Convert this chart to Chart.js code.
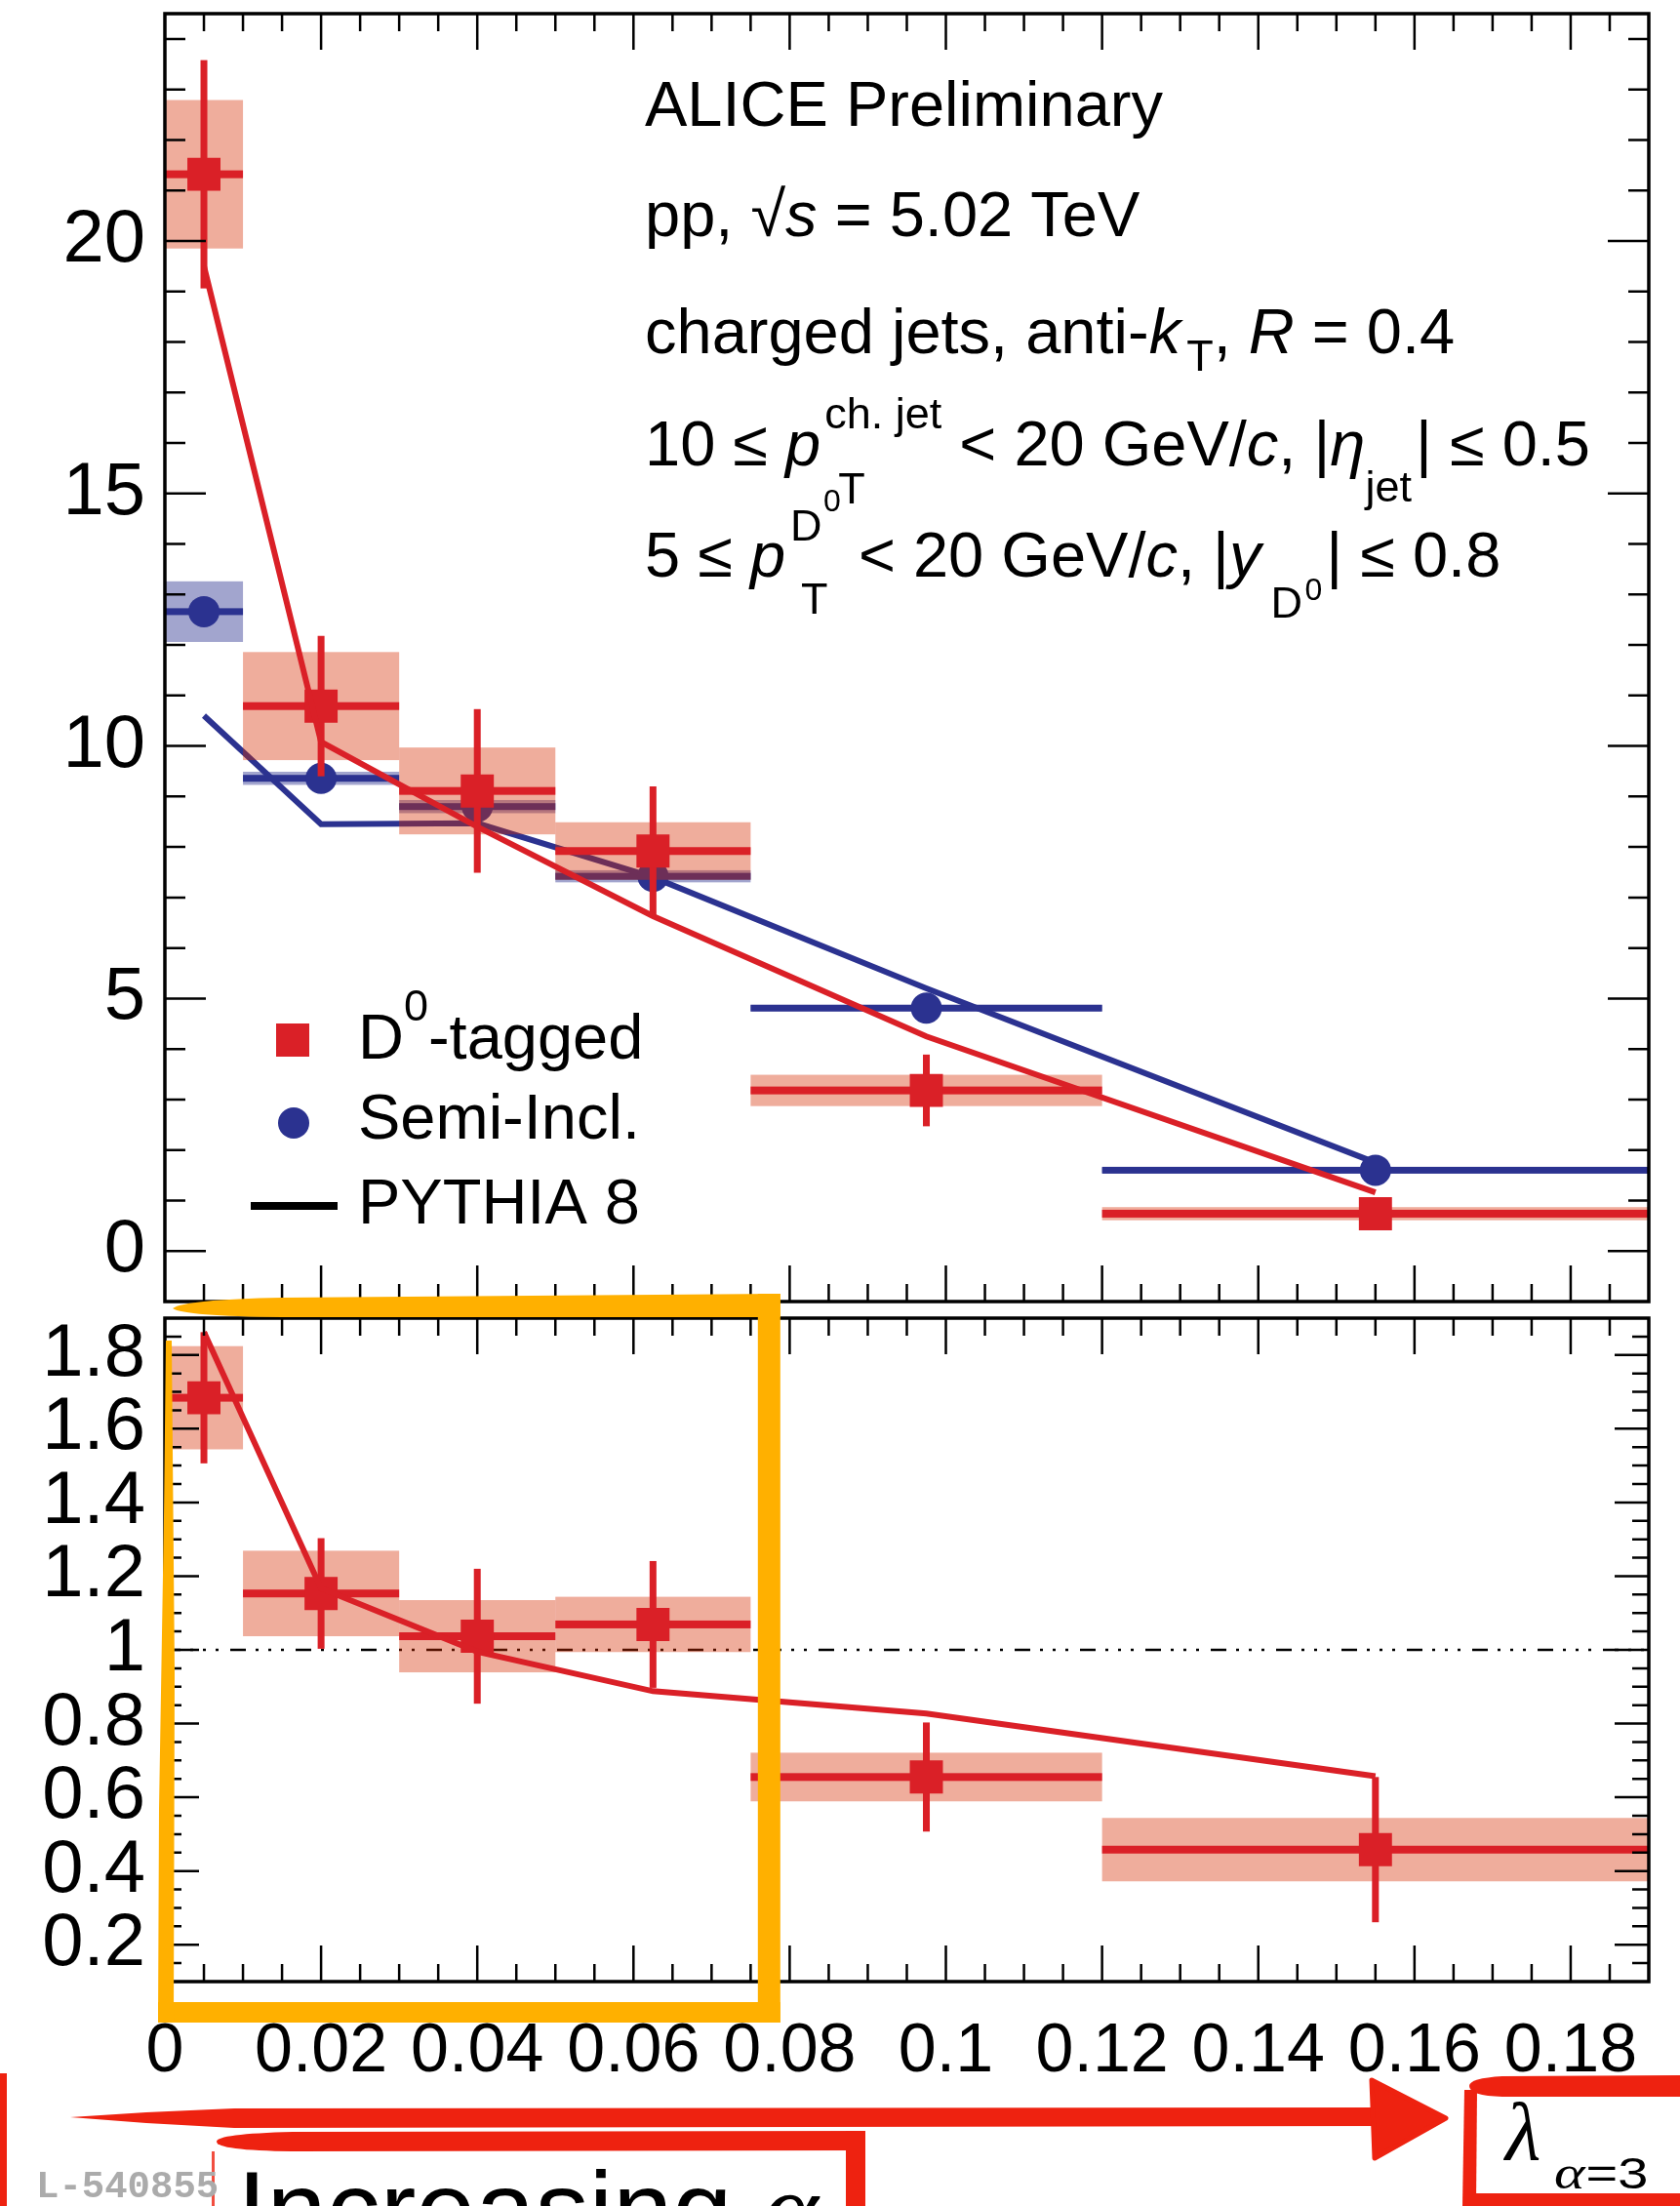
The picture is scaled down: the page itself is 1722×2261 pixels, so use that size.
<!DOCTYPE html>
<html>
<head>
<meta charset="utf-8">
<title>Jet angularity, D0-tagged vs semi-inclusive jets</title>
<script src="https://cdn.jsdelivr.net/npm/chart.js@4.4.1/dist/chart.umd.min.js"></script>
<style>
  html, body { margin: 0; padding: 0; background: #fff; }
  body { width: 1722px; height: 2261px; position: relative; overflow: hidden; }
  canvas { position: absolute; left: 0; }
  #top { top: 0; width: 1722px; height: 1342px; }
  #bottom { top: 1342px; width: 1722px; height: 919px; }
  #deco { top: 0; width: 1722px; height: 2261px; pointer-events: none; }
</style>
</head>
<body>
<canvas id="top" width="1722" height="1342"></canvas>
<canvas id="bottom" width="1722" height="919"></canvas>
<canvas id="deco" width="1722" height="2261"></canvas>
<script>
// ---- lambda (alpha = 3) bins ----
const lambdaLow    = [0, 0.01, 0.03, 0.05, 0.075, 0.12];
const lambdaHigh   = [0.01, 0.03, 0.05, 0.075, 0.12, 0.19];
const lambdaCenter = [0.005, 0.02, 0.04, 0.0625, 0.0975, 0.155];

// ---- D0-tagged jets: value, statistical and systematic uncertainty ----
const d0Tagged     = [21.32, 10.79, 9.11, 7.92, 3.18, 0.74];
const d0TaggedStat = [2.26, 1.39, 1.62, 1.28, 0.71, 0.25];
const d0TaggedSys  = [1.47, 1.07, 0.86, 0.57, 0.31, 0.13];

// ---- semi-inclusive jets ----
const semiIncl     = [12.66, 9.36, 8.80, 7.42, 4.81, 1.60];
const semiInclStat = [0.12, 0.08, 0.08, 0.08, 0.07, 0.06];
const semiInclSys  = [0.60, 0.13, 0.13, 0.12, 0.06, 0.05];

// ---- PYTHIA 8 predictions ----
const pythiaD0     = [19.5, 10.08, 8.4, 6.63, 4.25, 1.16];
const pythiaSemi   = [10.6, 8.45, 8.47, 7.4, 5.2, 1.75];

// ---- ratio D0-tagged / semi-inclusive ----
const ratio        = [1.684, 1.153, 1.037, 1.069, 0.655, 0.458];
const ratioStat    = [0.178, 0.15, 0.183, 0.172, 0.148, 0.197];
const ratioSys     = [0.14, 0.116, 0.098, 0.075, 0.066, 0.086];
const pythiaRatio  = [1.862, 1.167, 0.995, 0.888, 0.827, 0.657];

// ---- axes ----
const xRange          = [0, 0.19];
const xTickValues     = [0, 0.02, 0.04, 0.06, 0.08, 0.1, 0.12, 0.14, 0.16, 0.18];
const xTickLabels     = ['0', '0.02', '0.04', '0.06', '0.08', '0.1', '0.12', '0.14', '0.16', '0.18'];
const topYRange       = [-1, 24.5];
const topYTickValues  = [0, 5, 10, 15, 20];
const topYTickLabels  = ['0', '5', '10', '15', '20'];
const ratioYRange     = [0.1, 1.9];
const ratioYTickValues = [0.2, 0.4, 0.6, 0.8, 1, 1.2, 1.4, 1.6, 1.8];
const ratioYTickLabels = ['0.2', '0.4', '0.6', '0.8', '1', '1.2', '1.4', '1.6', '1.8'];
const highlightRange  = [0, 0.0773];

// ---- styles ----
const FAMILY = "'Liberation Sans', Arial, Helvetica, sans-serif";
const SERIF  = "'Liberation Serif', 'Times New Roman', serif";
const RED = 'rgb(218,32,39)';
const BLUE = 'rgb(43,50,144)';
const RED_BAND = 'rgba(215,45,0,0.39)';
const BLUE_BAND = 'rgba(43,50,144,0.44)';
const ORANGE = 'rgb(255,176,0)';
const MARK_RED = 'rgb(238,34,16)';

Chart.defaults.font.family = FAMILY;

const pts = (xs, ys) => xs.map((x, i) => ({ x, y: ys[i] }));

function clipArea(chart) {
  const a = chart.chartArea, c = chart.ctx;
  c.save();
  c.beginPath();
  c.rect(a.left, a.top, a.right - a.left, a.bottom - a.top);
  c.clip();
}

function drawBands(chart, vals, errs, color) {
  const { x, y } = chart.scales, c = chart.ctx;
  c.fillStyle = color;
  vals.forEach((v, i) => {
    const x0 = x.getPixelForValue(lambdaLow[i]), x1 = x.getPixelForValue(lambdaHigh[i]);
    const y0 = y.getPixelForValue(v + errs[i]), y1 = y.getPixelForValue(v - errs[i]);
    c.fillRect(x0, y0, x1 - x0, y1 - y0);
  });
}

function drawErrorBars(chart, vals, stat, color, hw, vw) {
  const { x, y } = chart.scales, c = chart.ctx;
  c.fillStyle = color;
  vals.forEach((v, i) => {
    const x0 = x.getPixelForValue(lambdaLow[i]), x1 = x.getPixelForValue(lambdaHigh[i]);
    const xc = x.getPixelForValue(lambdaCenter[i]);
    const yv = y.getPixelForValue(v);
    c.fillRect(x0, yv - hw / 2, x1 - x0, hw);
    const yt = y.getPixelForValue(v + stat[i]), yb = y.getPixelForValue(v - stat[i]);
    c.fillRect(xc - vw / 2, yt, vw, yb - yt);
  });
}

// frame with ROOT-style inward ticks on all four sides
const panelFrame = {
  id: 'panelFrame',
  afterDatasetsDraw(chart, args, o) {
    const { ctx, chartArea: a, scales: { x, y } } = chart;
    ctx.save();
    ctx.strokeStyle = '#000';
    ctx.lineWidth = 2.5;
    ctx.beginPath();
    const nx = Math.round((x.max - x.min) / o.xStep);
    for (let i = 0; i <= nx; i++) {
      const px = x.getPixelForValue(x.min + i * o.xStep);
      if (px <= a.left + 1 || px >= a.right - 1) continue;
      const len = (i % o.xMajorEvery === 0) ? o.xMajorLen : o.xMinorLen;
      ctx.moveTo(px, a.bottom); ctx.lineTo(px, a.bottom - len);
      ctx.moveTo(px, a.top); ctx.lineTo(px, a.top + len);
    }
    const i0 = Math.ceil(y.min / o.yStep - 1e-6), i1 = Math.floor(y.max / o.yStep + 1e-6);
    for (let i = i0; i <= i1; i++) {
      const py = y.getPixelForValue(i * o.yStep);
      if (py <= a.top + 1 || py >= a.bottom - 1) continue;
      const len = (i % o.yMajorEvery === 0) ? o.yMajorLen : o.yMinorLen;
      ctx.moveTo(a.left, py); ctx.lineTo(a.left + len, py);
      ctx.moveTo(a.right, py); ctx.lineTo(a.right - len, py);
    }
    ctx.stroke();
    ctx.lineWidth = 3.5;
    ctx.strokeRect(a.left, a.top, a.right - a.left, a.bottom - a.top);
    ctx.restore();
  }
};

// uncertainty boxes and bin-width bars of the distributions
const topMeasurements = {
  id: 'topMeasurements',
  beforeDatasetsDraw(chart) {
    clipArea(chart);
    drawBands(chart, semiIncl, semiInclSys, BLUE_BAND);
    drawErrorBars(chart, semiIncl, semiInclStat, BLUE, 7, 6);
    chart.ctx.restore();
  },
  beforeDatasetDraw(chart, args) {
    if (args.index !== 2) return;
    clipArea(chart);
    drawBands(chart, d0Tagged, d0TaggedSys, RED_BAND);
    drawErrorBars(chart, d0Tagged, d0TaggedStat, RED, 8, 7);
    chart.ctx.restore();
  }
};

const ratioMeasurements = {
  id: 'ratioMeasurements',
  beforeDatasetsDraw(chart) {
    const { ctx, chartArea: a, scales: { y } } = chart;
    clipArea(chart);
    const py = y.getPixelForValue(1);
    ctx.strokeStyle = '#000';
    ctx.lineWidth = 2.5;
    ctx.setLineDash([16, 10, 3, 10, 3, 10, 3, 12]);
    ctx.beginPath();
    ctx.moveTo(a.left, py); ctx.lineTo(a.right, py);
    ctx.stroke();
    ctx.setLineDash([]);
    drawBands(chart, ratio, ratioSys, RED_BAND);
    drawErrorBars(chart, ratio, ratioStat, RED, 8, 7);
    ctx.restore();
  }
};

// ---- rich text helper (sub/superscripts) ----
function fontStr(size, style) { return (style ? style + ' ' : '') + size + 'px ' + FAMILY; }
function drawRun(ctx, x, y, parts) {
  for (const p of parts) {
    if (p.gap) { x += p.gap; continue; }
    if (p.stack) {
      let w = 0;
      for (const s of p.stack) {
        ctx.font = fontStr(s.size, s.style);
        ctx.fillText(s.t, x + (s.dx || 0), y + (s.dy || 0));
        w = Math.max(w, (s.dx || 0) + ctx.measureText(s.t).width);
      }
      x += w;
      continue;
    }
    ctx.font = fontStr(p.size || 65, p.style);
    ctx.fillText(p.t, x, y + (p.dy || 0));
    x += ctx.measureText(p.t).width;
  }
}

const topText = {
  id: 'topText',
  afterDraw(chart) {
    const ctx = chart.ctx;
    ctx.save();
    ctx.fillStyle = '#000';
    ctx.textAlign = 'left';
    ctx.textBaseline = 'alphabetic';
    const x0 = 661;
    drawRun(ctx, x0, 129, [{ t: 'ALICE Preliminary' }]);
    drawRun(ctx, x0, 242, [{ t: 'pp, ' }, { t: '\u221A' }, { t: 's', style: 'italic' }, { t: ' = 5.02 TeV' }]);
    drawRun(ctx, x0, 362, [{ t: 'charged jets, anti-' }, { t: 'k', style: 'italic' }, { gap: 6 },
      { t: 'T', size: 45, dy: 18 }, { t: ', ' }, { t: 'R', style: 'italic' }, { t: ' = 0.4' }]);
    drawRun(ctx, x0, 477, [{ t: '10 \u2264 ' }, { t: 'p', style: 'italic' }, { gap: 4 },
      { stack: [{ t: 'ch. jet', size: 45, dy: -38 }, { t: 'T', size: 45, dy: 39, dx: 14 }] },
      { t: ' < 20 GeV/' }, { t: 'c', style: 'italic' }, { t: ', |' }, { t: '\u03B7', style: 'italic' },
      { t: 'jet', size: 45, dy: 37 }, { gap: 4 }, { t: '| \u2264 0.5' }]);
    drawRun(ctx, x0, 591, [{ t: '5 \u2264 ' }, { t: 'p', style: 'italic' }, { gap: 5 },
      { stack: [{ t: 'D', size: 45, dy: -37 }, { t: '0', size: 32, dy: -67, dx: 34 }, { t: 'T', size: 45, dy: 38, dx: 11 }] },
      { t: ' < 20 GeV/' }, { t: 'c', style: 'italic' }, { t: ', |' }, { t: 'y', style: 'italic' }, { gap: 10 },
      { stack: [{ t: 'D', size: 45, dy: 42 }, { t: '0', size: 32, dy: 24, dx: 35 }] }, { gap: 4 },
      { t: '| \u2264 0.8' }]);

    // legend
    ctx.fillStyle = RED;
    ctx.fillRect(283, 1049, 34, 34);
    ctx.fillStyle = BLUE;
    ctx.beginPath(); ctx.arc(301, 1151, 16, 0, Math.PI * 2); ctx.fill();
    ctx.fillStyle = '#000';
    ctx.fillRect(257, 1232, 89, 8);
    drawRun(ctx, 367, 1085, [{ t: 'D' }, { t: '0', size: 45, dy: -39 }, { t: '-tagged' }]);
    drawRun(ctx, 367, 1167, [{ t: 'Semi-Incl.' }]);
    drawRun(ctx, 367, 1254, [{ t: 'PYTHIA 8' }]);
    ctx.restore();
  }
};

function xScale(showLabels, axisHeight) {
  return {
    type: 'linear', min: xRange[0], max: xRange[1],
    grid: { display: false, drawTicks: false }, border: { display: false },
    ticks: {
      display: showLabels, autoSkip: false, maxRotation: 0, minRotation: 0, padding: 31,
      color: '#000', font: { family: FAMILY, size: 70 },
      callback: (v, i) => xTickLabels[i]
    },
    afterBuildTicks: s => { s.ticks = xTickValues.map(v => ({ value: v })); },
    afterFit: s => { s.height = axisHeight; s.paddingLeft = 0; s.paddingRight = 0; }
  };
}

function yScale(range, vals, labels) {
  return {
    type: 'linear', min: range[0], max: range[1],
    grid: { display: false, drawTicks: false }, border: { display: false },
    ticks: {
      autoSkip: false, padding: 20, color: '#000', font: { family: FAMILY, size: 76 },
      callback: (v, i) => labels[i]
    },
    afterBuildTicks: s => { s.ticks = vals.map(v => ({ value: v })); },
    afterFit: s => { s.width = 169; s.paddingTop = 0; s.paddingBottom = 0; }
  };
}

const commonOpts = {
  responsive: false, animation: false, devicePixelRatio: 1, events: [],
};

const chartTop = new Chart(document.getElementById('top'), {
  type: 'scatter',
  data: {
    datasets: [
      { label: 'PYTHIA 8 (semi-incl.)', data: pts(lambdaCenter, pythiaSemi), showLine: true,
        borderColor: BLUE, borderWidth: 6, pointRadius: 0, order: 4 },
      { label: 'Semi-Incl.', data: pts(lambdaCenter, semiIncl), pointStyle: 'circle',
        pointRadius: 16, backgroundColor: BLUE, borderColor: BLUE, pointBorderWidth: 0, order: 3 },
      { label: 'D0-tagged', data: pts(lambdaCenter, d0Tagged), pointStyle: 'rect',
        pointRadius: 24, backgroundColor: RED, borderColor: RED, pointBorderWidth: 0, order: 2 },
      { label: 'PYTHIA 8 (D0-tagged)', data: pts(lambdaCenter, pythiaD0), showLine: true,
        borderColor: RED, borderWidth: 6, pointRadius: 0, order: 1 }
    ]
  },
  options: {
    ...commonOpts,
    layout: { autoPadding: false, padding: { top: 14, right: 32, left: 0, bottom: 0 } },
    scales: { x: xScale(false, 8), y: yScale(topYRange, topYTickValues, topYTickLabels) },
    plugins: {
      legend: { display: false }, tooltip: { enabled: false },
      panelFrame: { xStep: 0.005, xMajorEvery: 4, xMajorLen: 37, xMinorLen: 18,
                    yStep: 1, yMajorEvery: 5, yMajorLen: 42, yMinorLen: 21 }
    }
  },
  plugins: [topMeasurements, panelFrame, topText]
});

const chartBottom = new Chart(document.getElementById('bottom'), {
  type: 'scatter',
  data: {
    datasets: [
      { label: 'D0-tagged / Semi-Incl.', data: pts(lambdaCenter, ratio), pointStyle: 'rect',
        pointRadius: 24, backgroundColor: RED, borderColor: RED, pointBorderWidth: 0, order: 2 },
      { label: 'PYTHIA 8 ratio', data: pts(lambdaCenter, pythiaRatio), showLine: true,
        borderColor: RED, borderWidth: 6, pointRadius: 0, order: 1 }
    ]
  },
  options: {
    ...commonOpts,
    layout: { autoPadding: false, padding: { top: 9, right: 32, left: 0, bottom: 0 } },
    scales: { x: xScale(true, 230), y: yScale(ratioYRange, ratioYTickValues, ratioYTickLabels) },
    plugins: {
      legend: { display: false }, tooltip: { enabled: false },
      panelFrame: { xStep: 0.005, xMajorEvery: 4, xMajorLen: 37, xMinorLen: 18,
                    yStep: 0.05, yMajorEvery: 4, yMajorLen: 35, yMinorLen: 17 }
    }
  },
  plugins: [ratioMeasurements, panelFrame]
});

// ---- hand-drawn highlight and labels around the figure ----
function drawDecorations() {
  const ctx = document.getElementById('deco').getContext('2d');
  const xs = chartBottom.scales.x;
  const bottomOffset = 1342;
  const L = xs.getPixelForValue(highlightRange[0]);
  const R = xs.getPixelForValue(highlightRange[1]);
  const T = chartTop.chartArea.bottom;
  const B = bottomOffset + chartBottom.chartArea.bottom;

  // orange highlight box
  ctx.fillStyle = ORANGE;
  ctx.beginPath();
  ctx.moveTo(L + 8, T + 7);
  ctx.quadraticCurveTo(L + 20, T - 2, L + 120, T - 4);
  ctx.lineTo(R + 12, T - 8);
  ctx.lineTo(R + 12, T + 16);
  ctx.lineTo(L + 120, T + 16);
  ctx.quadraticCurveTo(L + 20, T + 15, L + 8, T + 7);
  ctx.fill();
  ctx.fillRect(R - 11, T - 8, 23, B + 42 - (T - 8));
  ctx.fillRect(L - 7, B + 21, R + 12 - (L - 7), 21);
  ctx.beginPath();
  ctx.moveTo(L + 1, T + 40);
  ctx.lineTo(L + 7, T + 40);
  ctx.lineTo(L + 10, T + 380);
  ctx.lineTo(L + 9, B + 42);
  ctx.lineTo(L - 7, B + 42);
  ctx.lineTo(L - 6, T + 520);
  ctx.lineTo(L - 1, T + 220);
  ctx.closePath();
  ctx.fill();

  // red arrow and boxes
  ctx.fillStyle = MARK_RED;
  ctx.strokeStyle = MARK_RED;
  ctx.fillRect(0, 2125, 7, 136);
  ctx.beginPath();
  ctx.moveTo(72, 2170);
  ctx.lineTo(150, 2165);
  ctx.lineTo(240, 2161);
  ctx.lineTo(1412, 2160);
  ctx.lineTo(1412, 2179);
  ctx.lineTo(240, 2181);
  ctx.lineTo(150, 2176);
  ctx.closePath();
  ctx.fill();
  ctx.lineJoin = 'round';
  ctx.lineWidth = 5;
  ctx.beginPath();
  ctx.moveTo(1406, 2132);
  ctx.lineTo(1482, 2171);
  ctx.lineTo(1409, 2212);
  ctx.closePath();
  ctx.fill();
  ctx.stroke();

  ctx.beginPath();
  ctx.moveTo(887, 2184);
  ctx.lineTo(300, 2185);
  ctx.quadraticCurveTo(222, 2187, 222, 2195);
  ctx.quadraticCurveTo(222, 2204, 300, 2205);
  ctx.lineTo(887, 2204);
  ctx.closePath();
  ctx.fill();
  ctx.fillRect(867, 2184, 20, 77);
  ctx.globalAlpha = 0.8;
  ctx.fillRect(217, 2205, 3, 56);
  ctx.globalAlpha = 1;

  ctx.beginPath();
  ctx.moveTo(1722, 2127);
  ctx.lineTo(1540, 2128);
  ctx.quadraticCurveTo(1506, 2130, 1506, 2138);
  ctx.quadraticCurveTo(1506, 2148, 1540, 2149);
  ctx.lineTo(1722, 2149);
  ctx.closePath();
  ctx.fill();
  ctx.beginPath();
  ctx.moveTo(1501, 2142);
  ctx.lineTo(1514, 2142);
  ctx.lineTo(1513, 2261);
  ctx.lineTo(1499, 2261);
  ctx.closePath();
  ctx.fill();
  ctx.fillRect(1508, 2248, 214, 13);

  // labels
  ctx.textAlign = 'left';
  ctx.textBaseline = 'alphabetic';
  ctx.fillStyle = '#ababab';
  ctx.font = "bold 39px 'Liberation Mono', 'DejaVu Sans Mono', monospace";
  ctx.fillText('L-540855', 37, 2252);

  ctx.fillStyle = '#000';
  ctx.font = '110px ' + FAMILY;
  ctx.fillText('Increasing ', 243, 2302);
  const w = ctx.measureText('Increasing ').width;
  ctx.font = 'italic 110px ' + SERIF;
  ctx.fillText('\u03B1', 243 + w, 2302);

  ctx.font = 'italic 84px ' + SERIF;
  ctx.fillText('\u03BB', 1543, 2213);
  ctx.save();
  ctx.translate(1593, 2243);
  ctx.scale(1, 0.8);
  ctx.font = 'italic 60px ' + SERIF;
  ctx.fillText('\u03B1', 0, 0);
  const wa = ctx.measureText('\u03B1').width;
  ctx.font = '56px ' + FAMILY;
  ctx.fillText('=3', wa + 1, 0);
  ctx.restore();
}
drawDecorations();
</script>
</body>
</html>
